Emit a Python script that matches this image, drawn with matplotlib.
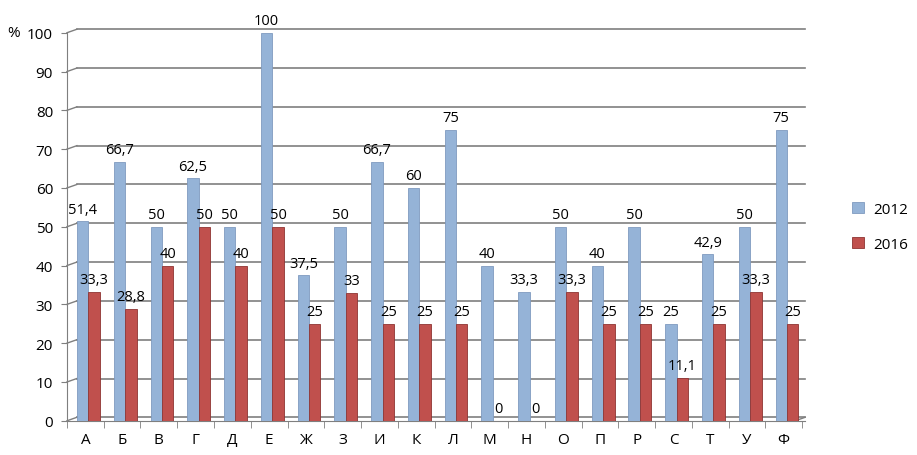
import numpy as np
import matplotlib
matplotlib.use("Agg")
import matplotlib.pyplot as plt

# ============================================================
# DATA
# ============================================================
categories = ["А", "Б", "В", "Г", "Д", "Е", "Ж", "З", "И", "К",
              "Л", "М", "Н", "О", "П", "Р", "С", "Т", "У", "Ф"]

values_2012 = [51.4, 66.7, 50, 62.5, 50, 100, 37.5, 50, 66.7, 60,
               75, 40, 33.3, 50, 40, 50, 25, 42.9, 50, 75]

values_2016 = [33.3, 28.8, 40, 50, 40, 50, 25, 33, 25, 25,
               25, 0, 0, 33.3, 25, 25, 11.1, 25, 33.3, 25]

labels_2012 = ["51,4", "66,7", "50", "62,5", "50", "100", "37,5", "50", "66,7", "60",
               "75", "40", "33,3", "50", "40", "50", "25", "42,9", "50", "75"]

labels_2016 = ["33,3", "28,8", "40", "50", "40", "50", "25", "33", "25", "25",
               "25", "0", "0", "33,3", "25", "25", "11,1", "25", "33,3", "25"]

series_names = ["2012", "2016"]

# ============================================================
# PLOT
# ============================================================
plt.rcParams["font.family"] = ["Open Sans", "DejaVu Sans"]

blue = "#95B3D7"
red = "#C0504D"
grid_col = "#7F7F7F"

fig = plt.figure(figsize=(9.17, 4.56), dpi=100)
ax = fig.add_axes([0.073, 0.075, 0.805, 0.851])

n = len(categories)
x = np.arange(n)
w = 0.31
off_b = -0.07
off_r = 0.24

ax.bar(x + off_b, values_2012, width=w, color=blue,
       edgecolor="#7F9BC0", linewidth=0.6, zorder=3, label=series_names[0])
ax.bar(x + off_r, values_2016, width=w, color=red,
       edgecolor="#8E3432", linewidth=0.6, zorder=3, label=series_names[1])

for xi, v, lab in zip(x, values_2012, labels_2012):
    ax.text(xi + off_b, v + 1.2, lab, ha="center", va="bottom", fontsize=10.5, zorder=5)

for xi, v, lab in zip(x, values_2016, labels_2016):
    ax.text(xi + off_r, v + 1.2, lab, ha="center", va="bottom", fontsize=10.5, zorder=5)

xmin, xmax = -0.5, n - 0.5 + 0.08
ax.set_xlim(xmin, xmax)
ax.set_ylim(0, 100)
ax.set_yticks(np.arange(0, 101, 10))
ax.set_xticks(x)
ax.set_xticklabels(categories, fontsize=11)
ax.tick_params(axis="x", length=0, pad=8)
ax.tick_params(axis="y", labelsize=11, length=4, color=grid_col, pad=6)

# category boundary ticks
ax.set_xticks(np.arange(-0.5, n + 0.5, 1), minor=True)
ax.tick_params(axis="x", which="minor", length=5, color=grid_col)

# back-wall gridlines with a small 3D slant at the left
dx, dy = 0.27, 0.9
for yv in np.arange(0, 101, 10):
    ax.plot([xmin, xmin + dx], [yv, yv + dy], color=grid_col, lw=1.0,
            zorder=1, clip_on=False)
    ax.plot([xmin + dx, xmax], [yv + dy, yv + dy], color=grid_col, lw=1.2,
            zorder=1, clip_on=False)
ax.plot([xmax - dx, xmax], [0, dy], color=grid_col, lw=1.0, zorder=1, clip_on=False)

for side in ["top", "right"]:
    ax.spines[side].set_visible(False)
ax.spines["left"].set_color(grid_col)
ax.spines["bottom"].set_color(grid_col)

fig.text(0.008, 0.918, "%", fontsize=11)

ax.legend(loc="center left", bbox_to_anchor=(1.045, 0.5), frameon=False,
          fontsize=11, handlelength=0.8, handleheight=0.8, labelspacing=1.3,
          handletextpad=0.6)

fig.savefig("out.png", dpi=100)
